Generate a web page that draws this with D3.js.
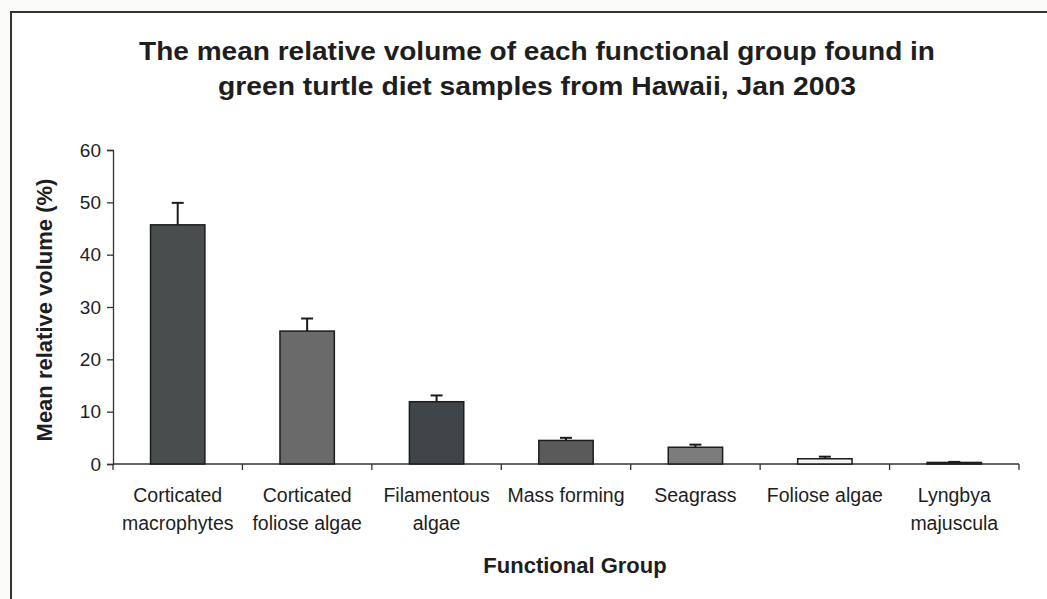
<!DOCTYPE html>
<html>
<head>
<meta charset="utf-8">
<script src="https://cdn.jsdelivr.net/npm/d3@7"></script>
<style>
  html, body { margin: 0; padding: 0; background: #fbfbfa; }
  svg { display: block; }
  text { font-family: "Liberation Sans", Arial, sans-serif; fill: #1e1e1e; }
</style>
</head>
<body>
<svg id="chart" width="1047" height="599"></svg>
<script>
// Functional groups found in green turtle diet samples
const groups = [
  ["Corticated", "macrophytes"],
  ["Corticated", "foliose algae"],
  ["Filamentous", "algae"],
  ["Mass forming"],
  ["Seagrass"],
  ["Foliose algae"],
  ["Lyngbya", "majuscula"]
];
const meanVolume = [45.7, 25.4, 11.9, 4.5, 3.2, 1.0, 0.3];
const errorUpper = [4.2, 2.4, 1.2, 0.5, 0.5, 0.4, 0.1];
const barFills = ["#4a4d4d", "#6a6a6a", "#3f4548", "#5a5a5a", "#7c7c7c", "#f2f2f2", "#3a3a3a"];
const yTicks = [0, 10, 20, 30, 40, 50, 60];

const svg = d3.select("#chart");

// outer frame
svg.append("rect")
  .attr("x", 11).attr("y", 12)
  .attr("width", 1060).attr("height", 620)
  .attr("fill", "#ffffff")
  .attr("stroke", "#333").attr("stroke-width", 2);

// title
const title = svg.append("text")
  .attr("text-anchor", "middle")
  .style("font-weight", "bold").style("font-size", "26px");
title.append("tspan").attr("x", 537).attr("y", 60)
  .attr("textLength", 796).attr("lengthAdjust", "spacingAndGlyphs")
  .text("The mean relative volume of each functional group found in");
title.append("tspan").attr("x", 537).attr("y", 95)
  .attr("textLength", 638).attr("lengthAdjust", "spacingAndGlyphs")
  .text("green turtle diet samples from Hawaii, Jan 2003");

const x = d3.scaleBand()
  .domain(d3.range(groups.length))
  .range([113, 1019])
  .padding(0);

const y = d3.scaleLinear().domain([0, 60]).range([464, 150]);

// y axis
const yAxis = svg.append("g")
  .attr("transform", "translate(113,0)")
  .call(d3.axisLeft(y).tickValues(yTicks).tickSize(6).tickPadding(6));
yAxis.select(".domain").attr("stroke", "#333").attr("stroke-width", 1.3);
yAxis.selectAll(".tick line").attr("stroke", "#333").attr("stroke-width", 1.3);
yAxis.selectAll(".tick text")
  .style("font-size", "19px").attr("fill", "#2a2a2a")
  .style("font-family", "'Liberation Sans', Arial, sans-serif");

// x axis with ticks between categories
const boundaries = d3.range(groups.length + 1).map(i => 113 + i * x.step());
const xAxisG = svg.append("g");
xAxisG.append("line")
  .attr("x1", 113).attr("x2", 1019)
  .attr("y1", y(0)).attr("y2", y(0))
  .attr("stroke", "#333").attr("stroke-width", 1.3);
xAxisG.selectAll("line.tick")
  .data(boundaries)
  .join("line")
  .attr("class", "tick")
  .attr("x1", d => d).attr("x2", d => d)
  .attr("y1", y(0)).attr("y2", y(0) + 6)
  .attr("stroke", "#333").attr("stroke-width", 1.3);

// bars
const barW = x.bandwidth() * 0.42;
const barsG = svg.append("g");
barsG.selectAll("rect")
  .data(meanVolume)
  .join("rect")
  .attr("x", (d, i) => x(i) + (x.bandwidth() - barW) / 2)
  .attr("y", d => y(d))
  .attr("width", barW)
  .attr("height", d => y(0) - y(d))
  .attr("fill", (d, i) => barFills[i])
  .attr("stroke", "#1c1c1c")
  .attr("stroke-width", 1.5);

// upper error bars
const errG = svg.append("g").attr("stroke", "#1c1c1c").attr("stroke-width", 2);
meanVolume.forEach((v, i) => {
  const cx = x(i) + x.bandwidth() / 2;
  errG.append("line")
    .attr("x1", cx).attr("x2", cx)
    .attr("y1", y(v)).attr("y2", y(v + errorUpper[i]));
  errG.append("line")
    .attr("x1", cx - 6).attr("x2", cx + 6)
    .attr("y1", y(v + errorUpper[i])).attr("y2", y(v + errorUpper[i]));
});

// category labels
const labelsG = svg.append("g");
groups.forEach((lines, i) => {
  const cx = x(i) + x.bandwidth() / 2;
  const t = labelsG.append("text")
    .attr("text-anchor", "middle")
    .style("font-size", "19.5px").attr("fill", "#2a2a2a");
  lines.forEach((ln, k) => {
    t.append("tspan").attr("x", cx).attr("y", 502 + k * 28).text(ln);
  });
});

// axis titles
svg.append("text")
  .attr("x", 575).attr("y", 573)
  .attr("text-anchor", "middle")
  .style("font-weight", "bold").style("font-size", "22px")
  .text("Functional Group");

svg.append("text")
  .attr("transform", "translate(52,310) rotate(-90)")
  .attr("text-anchor", "middle")
  .style("font-weight", "bold").style("font-size", "22px")
  .text("Mean relative volume (%)");
</script>
</body>
</html>
